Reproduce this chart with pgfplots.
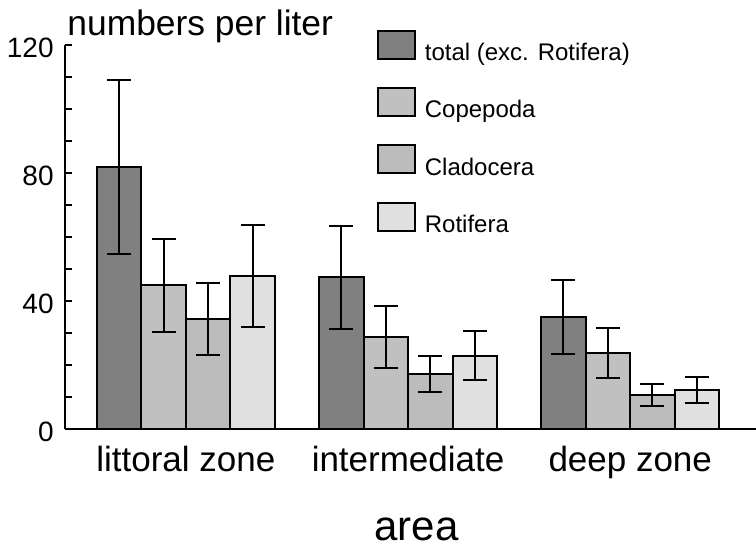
\documentclass[border=0pt]{standalone}
\usepackage{fontspec}
\setmainfont{Liberation Sans}
\usepackage{pgfplots}
\usepackage{pgfplotstable}
\pgfplotsset{compat=1.18}
\usetikzlibrary{calc}

\definecolor{cTotal}{HTML}{808080}
\definecolor{cCope}{HTML}{C0C0C0}
\definecolor{cClad}{HTML}{BCBCBC}
\definecolor{cRoti}{HTML}{E0E0E0}

% mean and error for each area (0 littoral, 1 intermediate, 2 deep)
\pgfplotstableread{
x total totalerr cope copeerr clad claderr roti rotierr
0 82   27.2 45   14.6 34.4 11.3 48   16
1 47.5 16   28.8 9.7  17.4 5.6  23   7.7
2 35   11.6 23.9 7.8  10.8 3.4  12.3 4
}\zoodata

\begin{document}
\begin{tikzpicture}
\begin{axis}[
  name=ax,
  scale only axis,
  width=345.5pt, height=192pt,
  xmin=-0.544, xmax=2.566,
  ymin=0, ymax=120,
  axis lines*=left,
  axis line style={line width=1pt},
  ybar=0pt, bar width=22.25pt,
  xtick={0,1,2},
  xticklabels={littoral zone, intermediate, deep zone},
  xtick style={draw=none},
  xticklabel style={font=\fontsize{17.5}{17.5}\selectfont, anchor=base, yshift=-21.2pt},
  ytick={0,40,80,120},
  minor y tick num=3,
  tick align=inside,
  major tick length=3.5pt, minor tick length=3.5pt,
  ytick style={line width=1pt, black},
  yticklabel style={font=\fontsize{14}{14}\selectfont, anchor=east, inner sep=0pt, xshift=-5.5pt, yshift=-1.2pt},
  /pgf/number format/assume math mode=true,
  title={numbers per liter},
  every axis title/.style={font=\fontsize{17.7}{17.7}\selectfont, at={(0,1)}, anchor=base west, inner sep=0pt, xshift=1pt, yshift=5pt},
  xlabel={area},
  every axis x label/.style={font=\fontsize{21}{21}\selectfont, at={(0.5,0)}, anchor=base, inner sep=0pt, xshift=3pt, yshift=-55.5pt},
  every axis plot/.append style={draw=black, line width=1pt},
  error bars/y dir=both,
  error bars/y explicit,
  error bars/error mark options={rotate=90, mark size=6pt, line width=1pt, black},
  error bars/error bar style={line width=1pt, black},
  legend style={at={(0.451,1.0417)}, anchor=north west, draw=none, fill=none,
    inner sep=0pt, font=\fontsize{12}{12}\selectfont,
    row sep=11.8pt, column sep=4.6pt, nodes={inner sep=0pt}},
  legend cell align=left,
  legend image code/.code={\draw[#1, line width=1pt] (0pt,-2.7pt) rectangle (18.3pt,11.3pt);},
  clip=false,
]
\addplot[fill=cTotal] table[x=x, y=total, y error=totalerr] {\zoodata};
\addplot[fill=cCope] table[x=x, y=cope, y error=copeerr] {\zoodata};
\addplot[fill=cClad] table[x=x, y=clad, y error=claderr] {\zoodata};
\addplot[fill=cRoti] table[x=x, y=roti, y error=rotierr] {\zoodata};
\legend{total (exc. Rotifera), Copepoda, Cladocera, Rotifera}
\end{axis}
\pgfresetboundingbox
\path[use as bounding box] ($(ax.south west)+(-32.5pt,-58.85pt)$) rectangle ++(378pt,273.5pt);
\end{tikzpicture}
\end{document}
